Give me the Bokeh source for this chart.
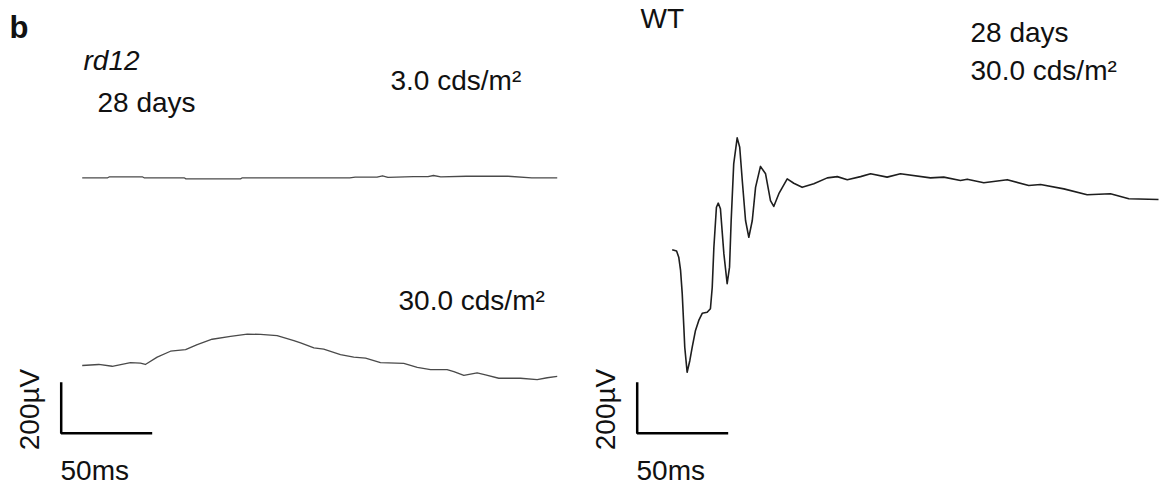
import math
from bokeh.plotting import figure
from bokeh.models import Range1d, Label
from bokeh.embed import file_html
from bokeh.resources import INLINE

# ---------------- data (time in ms, amplitude in µV, relative to trace start) ----------------
rd12_3_t = [0, 14, 15, 33, 34, 56, 57, 87, 88, 147, 150, 162, 165, 168, 182, 190, 193, 197, 211, 234, 247, 261]
rd12_3_uv = [0, 0, 4, 4, 0, 0, -4, -4, 0, 0, 3, 3, 8, 2, 5, 5, 9, 4, 6, 6, 0, 0]

rd12_30_t = [0, 9.1, 16.5, 26.5, 32.0, 34.7, 41.2, 48.5, 56.8, 63.2, 71.4, 81.5, 90.7, 98.0,
             107.1, 116.3, 120.0, 127.3, 132.7, 141.9, 149.2, 155.7, 163.9, 176.7, 184.1, 191.4,
             200.5, 204.2, 209.7, 217.0, 221.6, 228.9, 240.8, 250.0, 255.5, 261.0]
rd12_30_uv = [0, 4, -3, 11, 9, 4, 33, 56, 62, 82, 103, 114, 123, 122,
              117, 98, 89, 69, 64, 43, 33, 29, 11, 8, -7, -16,
              -16, -24, -39, -29, -37, -50, -50, -55, -48, -43]

wt_30_t = [0, 2.4, 3.6, 4.6, 5.5, 6.4, 6.9, 8.2, 9.7, 11.0, 12.8, 14.6, 16.5, 19.2, 21.0, 22.0,
           22.9, 24.3, 25.3, 26.5, 28.4, 30.2, 31.5, 32.4, 33.8, 35.7, 37.1, 38.5, 40.3, 42.1,
           44.0, 45.8, 48.5, 51.3, 54.0, 55.8, 58.6, 63.2, 66.8, 71.4, 77.8, 85.2, 90.7, 96.2,
           103.5, 109.0, 118.1, 125.4, 141.9, 149.2, 158.4, 162.1, 171.2, 184.1, 195.9, 202.4,
           215.2, 228.0, 240.8, 250.9, 267.2]
wt_30_uv = [0, -5, -29, -81, -171, -304, -382, -480, -434, -382, -316, -277, -249, -245, -231, -147,
            10, 167, 183, 161, -16, -133, -68, 115, 337, 439, 402, 272, 115, 49,
            115, 245, 327, 298, 193, 170, 220, 278, 261, 245, 259, 282, 287, 275,
            287, 298, 285, 298, 282, 285, 272, 277, 263, 275, 252, 256,
            239, 216, 220, 200, 197]

scale_ms = 50
scale_uv = 200

# ---------------- layout ----------------
W, H = 1161, 486
PX_PER_MS = 1.82
PX_PER_UV = 0.255
FONT = "Liberation Sans"
FS = "28px"
DY = -10  # vertical correction for text placement

p = figure(width=W, height=H, x_range=Range1d(0, W), y_range=Range1d(H, 0),
           x_axis_location=None, y_axis_location=None, toolbar_location=None,
           output_backend="svg", min_border=0, outline_line_color=None,
           background_fill_color="white", border_fill_color="white")
p.grid.visible = False


def trace(t, uv, x0, y0, color, width):
    xs = [x0 + v * PX_PER_MS for v in t]
    ys = [y0 - v * PX_PER_UV for v in uv]
    p.line(xs, ys, line_color=color, line_width=width, line_join="round")


trace(rd12_3_t, rd12_3_uv, 81.7, 177.3, "#4a4a4a", 1.3)
trace(rd12_30_t, rd12_30_uv, 81.7, 365.0, "#4a4a4a", 1.3)
trace(wt_30_t, wt_30_uv, 671.7, 249.3, "#1e1e1e", 1.6)


def scalebar(x0, y0):
    xs = [x0, x0, x0 + scale_ms * PX_PER_MS]
    ys = [y0 - scale_uv * PX_PER_UV, y0, y0]
    p.line(xs, ys, line_color="black", line_width=2.5)


scalebar(60.7, 432.7)
scalebar(636.7, 432.7)


def label(x, y, text, style="normal", align="left", baseline="alphabetic", angle=0.0, size=FS, dy=DY):
    p.add_layout(Label(x=x, y=y + dy, text=text, text_font=FONT, text_font_size=size,
                       text_font_style=style, text_color="#111111", text_align=align,
                       text_baseline=baseline, angle=angle))


label(9, 37, "b", style="bold", size="31px")
label(83, 70, "rd12", style="italic")
label(97, 112, "28 days")
label(390, 90, "3.0 cds/m²")
label(398, 310, "30.0 cds/m²")
label(640, 28, "WT")
label(970, 42, "28 days")
label(970, 80, "30.0 cds/m²")
label(60, 480, "50ms")
label(636, 480, "50ms")
label(29, 409, "200µV", align="center", baseline="middle", angle=math.pi / 2, dy=0)
label(605, 409, "200µV", align="center", baseline="middle", angle=math.pi / 2, dy=0)

open("out.html", "w").write(file_html(p, INLINE))
